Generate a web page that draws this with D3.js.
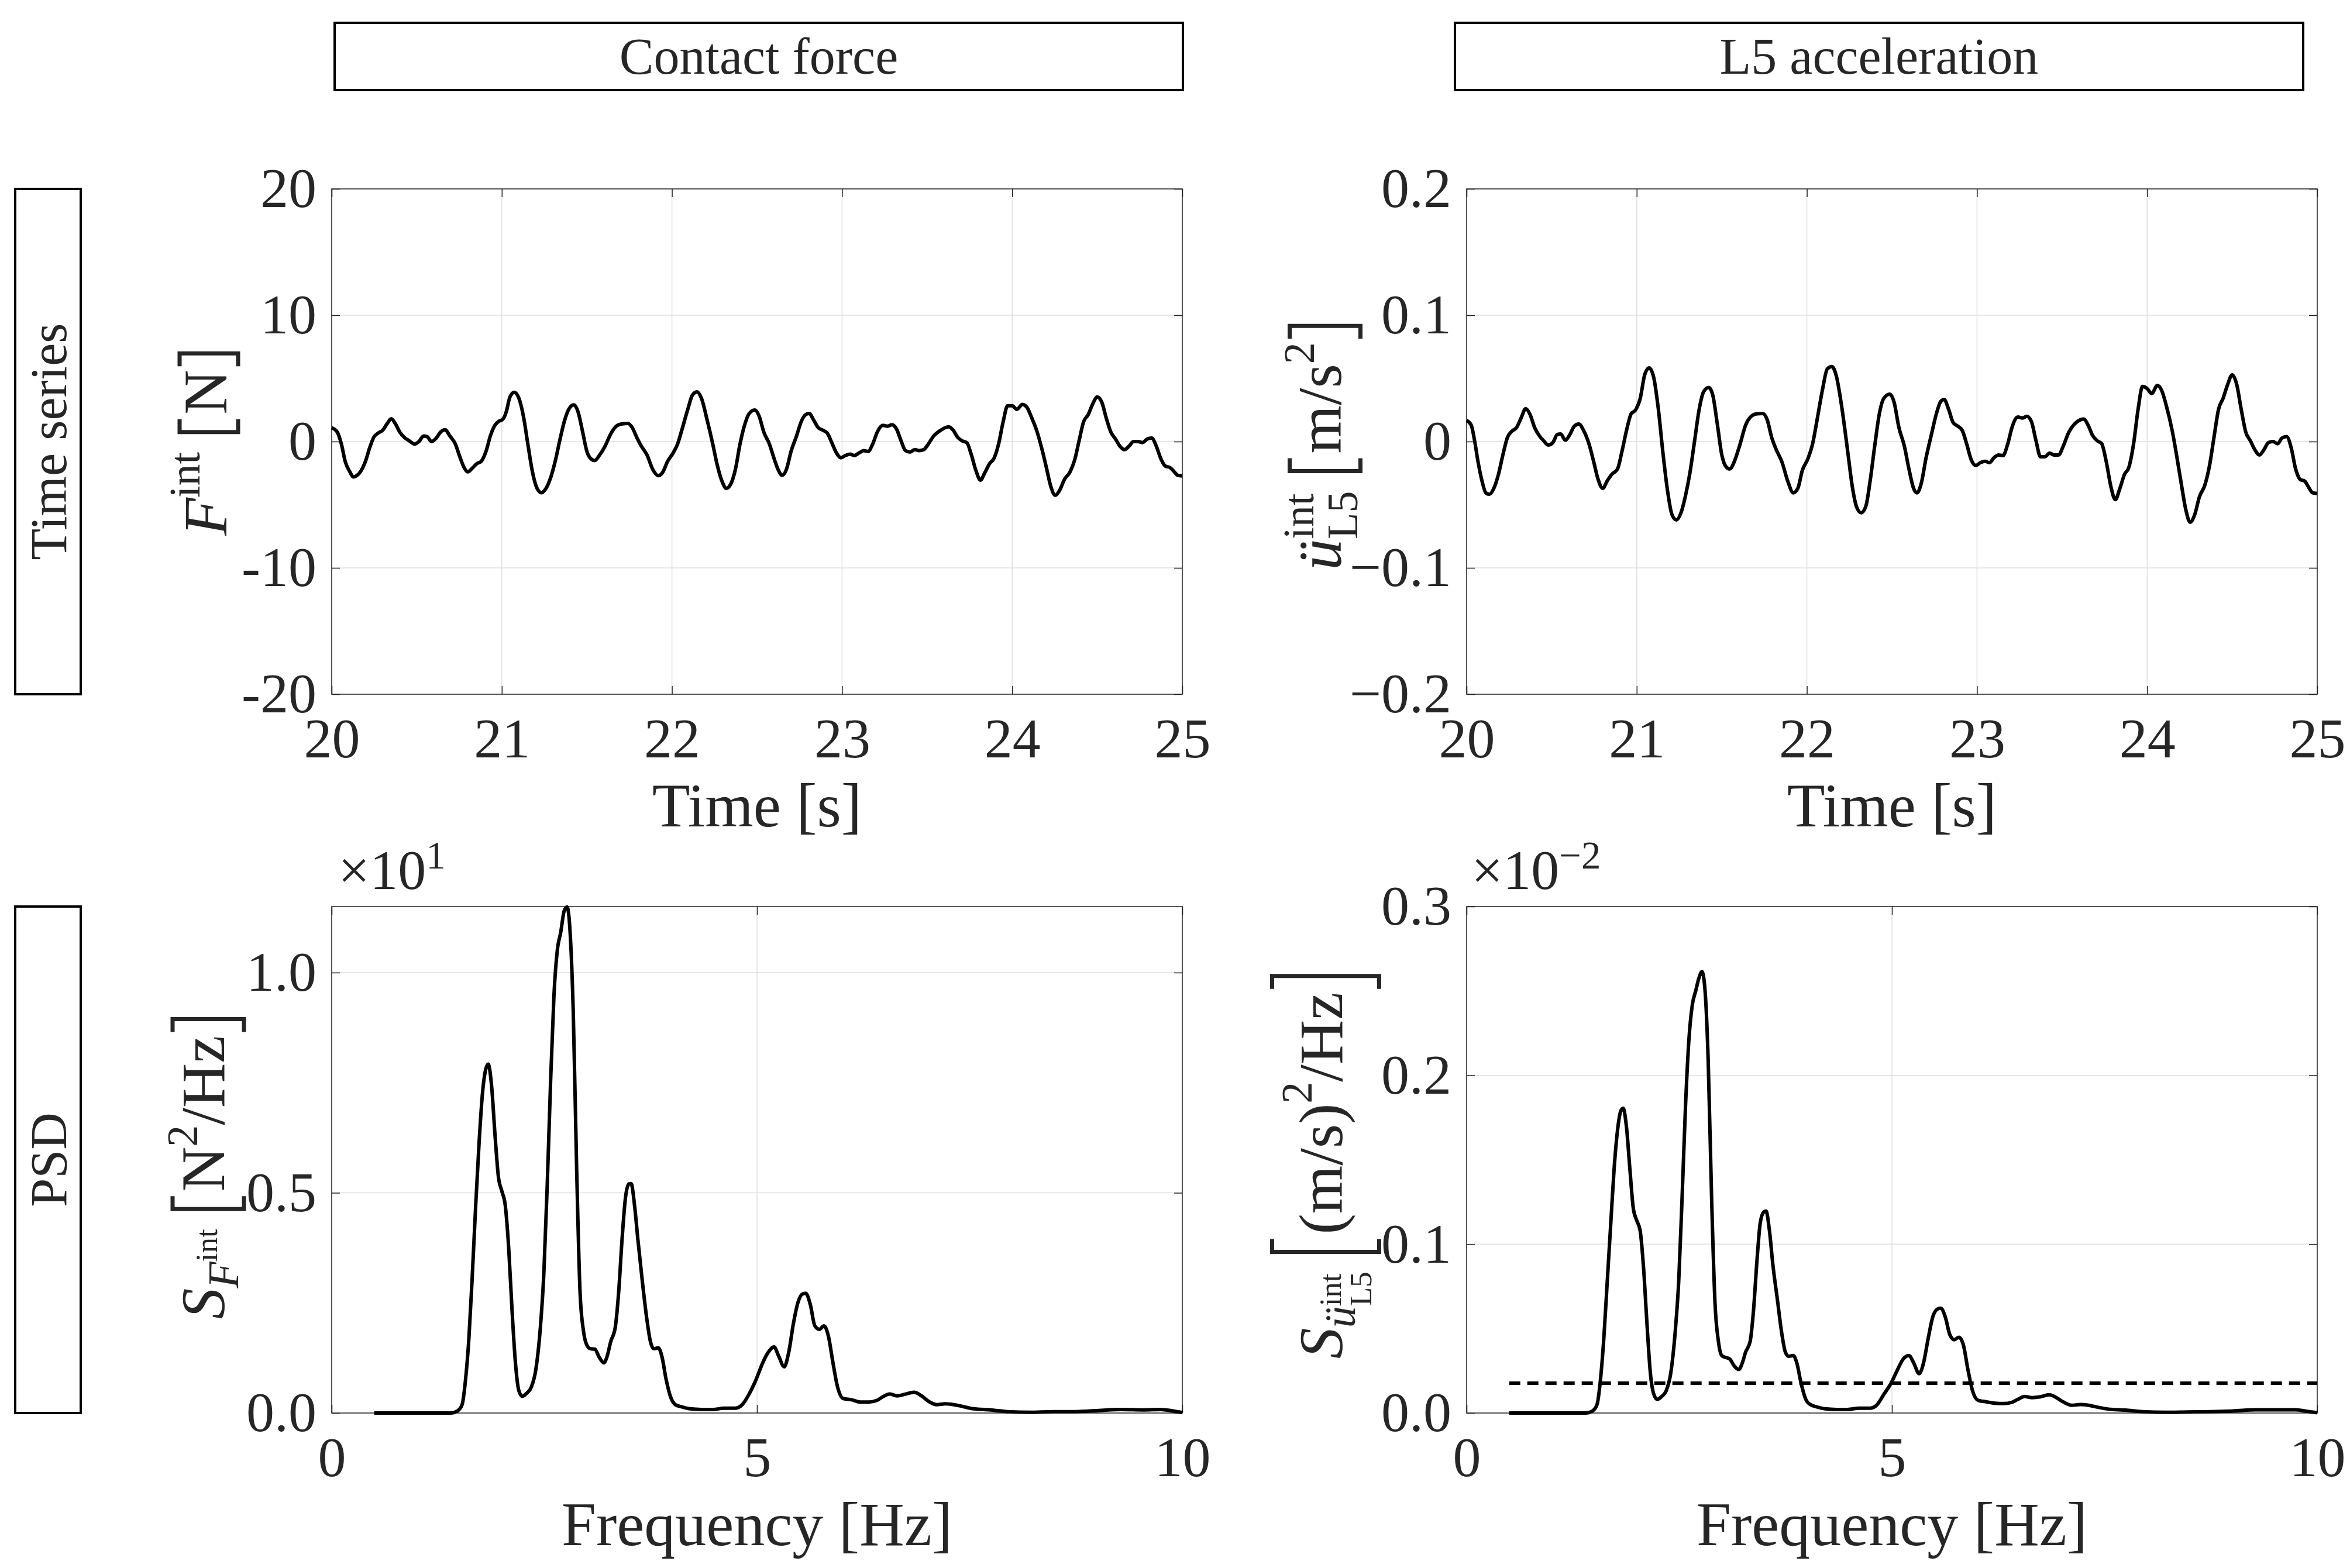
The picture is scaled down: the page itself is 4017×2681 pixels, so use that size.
<!DOCTYPE html>
<html>
<head>
<meta charset="utf-8">
<script src="https://cdn.jsdelivr.net/npm/d3@7"></script>
<style>
  body { margin: 0; background: #fff; }
  text { font-family: "Liberation Serif", serif; fill: #262626; }
</style>
</head>
<body>
<div id="chart"></div>
<script>
// ---- data ----
// time series, 20 - 25 s
const forceTime = [
  20.000, 20.033, 20.057, 20.080, 20.107, 20.127, 20.147, 20.173, 20.200, 20.223,
  20.247, 20.273, 20.300, 20.327, 20.350, 20.373, 20.400, 20.427, 20.457, 20.487,
  20.513, 20.540, 20.560, 20.587, 20.613, 20.640, 20.667, 20.693, 20.727, 20.753,
  20.780, 20.800, 20.827, 20.853, 20.880, 20.907, 20.933, 20.960, 20.980, 21.007,
  21.027, 21.047, 21.073, 21.100, 21.127, 21.153, 21.180, 21.207, 21.233, 21.260,
  21.287, 21.313, 21.340, 21.367, 21.393, 21.423, 21.447, 21.473, 21.500, 21.527,
  21.547, 21.573, 21.607, 21.640, 21.673, 21.707, 21.740, 21.767, 21.793, 21.820,
  21.853, 21.887, 21.920, 21.947, 21.973, 22.007, 22.033, 22.060, 22.093, 22.120,
  22.147, 22.173, 22.207, 22.240, 22.267, 22.293, 22.320, 22.347, 22.373, 22.400,
  22.427, 22.453, 22.487, 22.513, 22.540, 22.573, 22.600, 22.627, 22.647, 22.673,
  22.700, 22.733, 22.760, 22.787, 22.807, 22.833, 22.860, 22.887, 22.913, 22.940,
  22.967, 22.993, 23.020, 23.047, 23.073, 23.100, 23.127, 23.153, 23.180, 23.207,
  23.240, 23.267, 23.293, 23.320, 23.347, 23.373, 23.400, 23.427, 23.453, 23.480,
  23.507, 23.540, 23.573, 23.607, 23.627, 23.653, 23.680, 23.707, 23.733, 23.760,
  23.787, 23.813, 23.840, 23.867, 23.893, 23.920, 23.947, 23.973, 24.000, 24.027,
  24.060, 24.087, 24.113, 24.147, 24.173, 24.200, 24.227, 24.253, 24.280, 24.307,
  24.340, 24.367, 24.393, 24.420, 24.447, 24.473, 24.500, 24.527, 24.553, 24.580,
  24.607, 24.633, 24.660, 24.687, 24.713, 24.740, 24.767, 24.793, 24.820, 24.847,
  24.873, 24.900, 24.927, 24.953, 24.973, 25.000
];
// contact force [N]
const forceVal = [
  1.1, 0.75, -0.2, -1.6, -2.4, -2.8, -2.7, -2.3, -1.5, -0.5,
  0.33, 0.67, 0.9, 1.44, 1.8, 1.44, 0.75, 0.33, 0.05, -0.2,
  0, 0.44, 0.4, 0, 0.25, 0.75, 0.94, 0.47, -0.2, -1.2,
  -2.1, -2.4, -2.1, -1.75, -1.55, -0.78, 0.47, 1.3, 1.58, 1.78,
  2.4, 3.5, 3.9, 3.44, 2.0, -0.2, -2.4, -3.7, -4.05, -3.7,
  -2.86, -1.6, 0.05, 1.58, 2.55, 2.9, 2.4, 0.9, -0.78, -1.4,
  -1.5, -1.1, -0.36, 0.6, 1.22, 1.4, 1.44, 1.1, 0.33, -0.36,
  -1.05, -2.2, -2.7, -2.4, -1.6, -0.9, -0.2, 1.0, 2.55, 3.67,
  3.94, 3.44, 1.7, -0.2, -1.9, -3.1, -3.7, -3.33, -2.2, -0.2,
  1.3, 2.2, 2.5, 2.0, 0.75, -0.2, -1.33, -2.3, -2.67, -2.2,
  -0.78, 0.47, 1.58, 2.14, 2.22, 1.7, 1.1, 0.9, 0.67, -0.1,
  -0.9, -1.28, -1.1, -1.0, -1.1, -0.9, -0.72, -0.78, -0.2, 0.75,
  1.28, 1.22, 1.33, 1.0, 0.05, -0.72, -0.83, -0.64, -0.72, -0.64,
  -0.2, 0.47, 0.83, 1.1, 1.17, 0.9, 0.33, 0.05, -0.08, -1.05,
  -2.3, -3.05, -2.44, -1.75, -1.33, -0.2, 1.58, 2.83, 2.83, 2.55,
  2.94, 2.7, 1.94, 0.75, -0.5, -2.0, -3.55, -4.25, -3.83, -3.0,
  -2.4, -1.47, 0.05, 1.58, 2.14, 2.97, 3.53, 3.1, 1.86, 0.75,
  0.2, -0.36, -0.64, -0.36, 0, 0, -0.08, 0.2, 0.28, -0.36,
  -1.33, -1.94, -2.05, -2.4, -2.67, -2.72
];
// L5 acceleration: first 50 samples read on their own, the rest at the same times as the force
const accTime = [
  20.000, 20.027, 20.047, 20.067, 20.090, 20.113, 20.133, 20.160, 20.187, 20.213,
  20.240, 20.267, 20.293, 20.320, 20.347, 20.373, 20.400, 20.427, 20.453, 20.480,
  20.507, 20.533, 20.553, 20.580, 20.607, 20.633, 20.660, 20.687, 20.720, 20.747,
  20.773, 20.800, 20.827, 20.853, 20.887, 20.913, 20.940, 20.967, 20.993, 21.020,
  21.047, 21.073, 21.100, 21.127, 21.153, 21.180, 21.207, 21.233, 21.260, 21.287
].concat(forceTime.slice(51));
// [m/s^2]
const accVal = [
  0.0167, 0.013, 0.0006, -0.016, -0.031, -0.0406, -0.0417, -0.037, -0.026, -0.0106,
  0.0033, 0.0083, 0.011, 0.0186, 0.026, 0.0214, 0.011, 0.0047, 0.0006, -0.0028,
  -0.0008, 0.0056, 0.006, 0.0011, 0.0056, 0.0122, 0.0139, 0.0089, -0.0022, -0.016,
  -0.03, -0.037, -0.031, -0.026, -0.0217, -0.0078, 0.0089, 0.022, 0.025, 0.0339,
  0.053, 0.0583, 0.0506, 0.0256, -0.0078, -0.038, -0.0578, -0.062, -0.0564, -0.0425,
  -0.0244, 0.0006, 0.0256, 0.0394, 0.0428, 0.0367, 0.0144, -0.0106, -0.0203, -0.0217,
  -0.016, -0.0022, 0.013, 0.02, 0.022, 0.0222, 0.0172, 0.0033, -0.0064, -0.016,
  -0.031, -0.0406, -0.037, -0.023, -0.0133, -0.0022, 0.0172, 0.042, 0.0575, 0.0594,
  0.052, 0.0256, -0.0078, -0.0356, -0.052, -0.0564, -0.051, -0.03, -0.0022, 0.0228,
  0.0344, 0.0375, 0.031, 0.0117, -0.0036, -0.0217, -0.037, -0.0406, -0.0328, -0.0133,
  0.0061, 0.0214, 0.0317, 0.0333, 0.0256, 0.015, 0.0122, 0.0089, -0.0022, -0.0147,
  -0.0189, -0.0167, -0.0156, -0.0167, -0.0128, -0.0106, -0.0111, -0.0022, 0.0117, 0.0194,
  0.0186, 0.02, 0.0158, 0.0006, -0.012, -0.012, -0.0092, -0.0106, -0.0106, -0.0036,
  0.0075, 0.0139, 0.0172, 0.0178, 0.013, 0.0047, 0.0006, -0.0017, -0.016, -0.0356,
  -0.046, -0.037, -0.026, -0.0203, -0.0022, 0.0256, 0.0436, 0.042, 0.038, 0.0444,
  0.04, 0.0283, 0.0089, -0.0106, -0.0328, -0.0536, -0.0639, -0.0578, -0.0439, -0.0342,
  -0.0189, 0.0033, 0.0256, 0.0344, 0.045, 0.0528, 0.045, 0.0256, 0.0075, 0.0006,
  -0.0064, -0.0106, -0.0064, -0.0008, 0, -0.0017, 0.0028, 0.0039, -0.005, -0.0217,
  -0.03, -0.0314, -0.037, -0.0406, -0.0411
];

// PSD, frequency [Hz]
const psdFreq = [
  0.5, 1.0, 1.4, 1.48, 1.533, 1.573, 1.613, 1.653, 1.693, 1.733,
  1.773, 1.813, 1.84, 1.88, 1.92, 1.96, 2.0, 2.04, 2.08, 2.12,
  2.16, 2.2, 2.24, 2.293, 2.347, 2.4, 2.453, 2.493, 2.533, 2.573,
  2.613, 2.653, 2.693, 2.733, 2.767, 2.8, 2.84, 2.88, 2.92, 2.96,
  3.0, 3.04, 3.093, 3.147, 3.2, 3.24, 3.28, 3.333, 3.373, 3.413,
  3.453, 3.493, 3.52, 3.56, 3.6, 3.653, 3.707, 3.747, 3.787, 3.84,
  3.88, 3.933, 3.987, 4.04, 4.113, 4.213, 4.347, 4.48, 4.613, 4.747,
  4.827, 4.907, 4.987, 5.067, 5.133, 5.2, 5.253, 5.32, 5.373, 5.427,
  5.48, 5.533, 5.573, 5.627, 5.68, 5.733, 5.787, 5.84, 5.893, 5.947,
  6.013, 6.113, 6.213, 6.313, 6.413, 6.48, 6.56, 6.647, 6.747, 6.847,
  6.933, 7.013, 7.113, 7.213, 7.313, 7.413, 7.547, 7.747, 7.947, 8.213,
  8.48, 8.747, 9.013, 9.28, 9.547, 9.747, 9.88, 10.0
];
// S_F [N^2/Hz]
const psdForce = [
  0, 0, 0, 0.05, 0.19, 0.75, 1.7, 3.13, 4.72, 6.15,
  7.27, 7.82, 7.92, 7.42, 6.31, 5.36, 5.04, 4.72, 3.77, 2.34,
  1.14, 0.51, 0.38, 0.45, 0.59, 0.99, 1.94, 3.13, 5.12, 7.5,
  9.49, 10.52, 10.92, 11.4, 11.49, 11.0, 9.09, 5.52, 2.73, 1.86,
  1.54, 1.46, 1.45, 1.26, 1.14, 1.3, 1.62, 1.94, 2.73, 3.93,
  4.88, 5.2, 5.21, 4.72, 3.93, 2.97, 2.1, 1.62, 1.46, 1.48,
  1.3, 0.75, 0.35, 0.19, 0.14, 0.095, 0.08, 0.08, 0.11, 0.11,
  0.19, 0.43, 0.75, 1.14, 1.38, 1.5, 1.3, 1.05, 1.38, 2.02,
  2.5, 2.7, 2.72, 2.46, 1.98, 1.9, 1.98, 1.74, 1.14, 0.59,
  0.33, 0.30, 0.25, 0.25, 0.29, 0.37, 0.43, 0.39, 0.43, 0.47,
  0.39, 0.27, 0.19, 0.21, 0.19, 0.15, 0.095, 0.07, 0.03, 0.016,
  0.03, 0.03, 0.056, 0.08, 0.07, 0.08, 0.05, 0.01
];
// S_acc [(m/s^2)^2/Hz]
const psdAcc = [
  0, 0, 0, 0.000012, 0.00005, 0.000195, 0.000444, 0.000777, 0.00111, 0.00144,
  0.00167, 0.00179, 0.001805, 0.00169, 0.00144, 0.00121, 0.00114, 0.00108, 0.00086, 0.00053,
  0.000237, 0.000112, 0.000081, 0.000098, 0.000133, 0.000237, 0.000486, 0.000777, 0.001275, 0.001815,
  0.00221, 0.002417, 0.0025, 0.00258, 0.002615, 0.00252, 0.002085, 0.001275, 0.000652, 0.000424,
  0.00034, 0.00033, 0.00032, 0.000278, 0.000258, 0.000295, 0.000361, 0.000424, 0.00061, 0.000901,
  0.00113, 0.00119, 0.001196, 0.00108, 0.00088, 0.000673, 0.000465, 0.000361, 0.000336, 0.00034,
  0.0003, 0.000174, 0.000081, 0.00005, 0.000037, 0.000025, 0.000021, 0.000021, 0.000029, 0.000029,
  0.00005, 0.000112, 0.000174, 0.000258, 0.00032, 0.00034, 0.0003, 0.000233, 0.0003, 0.000444,
  0.000569, 0.000615, 0.000621, 0.000569, 0.000465, 0.000434, 0.000449, 0.000403, 0.000258, 0.000133,
  0.000075, 0.000066, 0.000058, 0.000056, 0.000064, 0.000081, 0.000098, 0.000091, 0.000096, 0.000108,
  0.000091, 0.000066, 0.000046, 0.00005, 0.000046, 0.000035, 0.000023, 0.000017, 0.000008, 0.000004,
  0.000006, 0.000008, 0.000012, 0.000019, 0.000019, 0.000019, 0.00001, 0.000002
];
// dashed level in the acceleration PSD
const accLevel = { f: [0.5, 10], s: 0.000177 };

// ticks
const timeTicks = [20, 21, 22, 23, 24, 25];
const forceTicks = [-20, -10, 0, 10, 20];
const accTicks = [-0.2, -0.1, 0, 0.1, 0.2];
const freqTicks = [0, 5, 10];
const psdForceTicks = [0, 5, 10];
const psdAccTicks = [0, 0.001, 0.002, 0.003];

const colTitles = ["Contact force", "L5 acceleration"];
const rowTitles = ["Time series", "PSD"];

// ---- drawing ----
const width = 4017, height = 2681;
const ink = "#262626";

const svg = d3.select("#chart").append("svg")
  .attr("width", width).attr("height", height)
  .style("background", "#fff");

const cols = [{ x0: 567, x1: 2021 }, { x0: 2507, x1: 3961 }];
const rows = [{ y0: 323, y1: 1187 }, { y0: 1550, y1: 2416 }];

const line = (x, y) => d3.line().x(d => x(d[0])).y(d => y(d[1])).curve(d3.curveMonotoneX);

function panel(p) {
  const x = d3.scaleLinear().domain(p.xDom).range([p.x0, p.x1]);
  const y = d3.scaleLinear().domain(p.yDom).range([p.y1, p.y0]);
  const g = svg.append("g");

  g.append("g").selectAll("line").data(p.xGrid).join("line")
    .attr("x1", d => x(d)).attr("x2", d => x(d))
    .attr("y1", p.y0).attr("y2", p.y1)
    .attr("stroke", "#dfdfdf").attr("stroke-width", 1.5);
  g.append("g").selectAll("line").data(p.yGrid).join("line")
    .attr("y1", d => y(d)).attr("y2", d => y(d))
    .attr("x1", p.x0).attr("x2", p.x1)
    .attr("stroke", "#dfdfdf").attr("stroke-width", 1.5);

  const style = a => {
    a.attr("font-size", 96).attr("font-family", '"Liberation Serif", serif').attr("color", ink);
    a.select(".domain").remove();
    a.selectAll("line").attr("stroke-width", 1.5);
  };

  g.append("g").attr("transform", `translate(0,${p.y1})`)
    .call(d3.axisBottom(x).tickValues(p.xTicks).tickSize(-14).tickSizeOuter(0)
      .tickPadding(40).tickFormat(p.xFmt))
    .call(style);
  g.append("g").attr("transform", `translate(${p.x0},0)`)
    .call(d3.axisLeft(y).tickValues(p.yTicks).tickSize(-14).tickSizeOuter(0)
      .tickPadding(26).tickFormat(p.yFmt))
    .call(style);
  g.append("g").attr("transform", `translate(0,${p.y0})`)
    .call(d3.axisTop(x).tickValues(p.xTicks).tickSize(-14).tickSizeOuter(0).tickFormat(""))
    .call(style);
  g.append("g").attr("transform", `translate(${p.x1},0)`)
    .call(d3.axisRight(y).tickValues(p.yTicks).tickSize(-14).tickSizeOuter(0).tickFormat(""))
    .call(style);

  g.append("rect")
    .attr("x", p.x0).attr("y", p.y0)
    .attr("width", p.x1 - p.x0).attr("height", p.y1 - p.y0)
    .attr("fill", "none").attr("stroke", ink).attr("stroke-width", 1.5);

  p.series.forEach(s => {
    g.append("path")
      .datum(d3.zip(s.x, s.y))
      .attr("d", line(x, y))
      .attr("fill", "none").attr("stroke", "#000")
      .attr("stroke-width", 6)
      .attr("stroke-linejoin", "round")
      .attr("stroke-dasharray", s.dash || null);
  });

  g.append("text")
    .attr("x", (p.x0 + p.x1) / 2).attr("y", p.y1 + 226)
    .attr("text-anchor", "middle").attr("font-size", 106)
    .text(p.xLabel);

  if (p.exp) {
    const t = g.append("text").attr("x", p.exp.x).attr("y", p.y0 - 30).attr("font-size", 96);
    t.append("tspan").text("×10");
    t.append("tspan").attr("font-size", 67).attr("dy", -35).text(p.exp.e);
  }
  return { x, y };
}

// y label built from pieces laid out along the text direction, then rotated
function mathLabel(bx, cy, pieces) {
  const g = svg.append("g").attr("transform", `translate(${bx},${cy}) rotate(-90)`);
  const inner = g.append("g");
  let cursor = 0, prevStart = 0;
  pieces.forEach(pc => {
    if (pc.gap) { cursor += pc.gap; return; }
    if (pc.br) {
      const w = 22, x0 = cursor + 6;
      const top = pc.c - pc.h / 2, bot = pc.c + pc.h / 2;
      const d = pc.br === "l"
        ? `M${x0 + w},${top}H${x0}V${bot}H${x0 + w}`
        : `M${x0},${top}H${x0 + w}V${bot}H${x0}`;
      inner.append("path").attr("d", d).attr("fill", "none")
        .attr("stroke", ink).attr("stroke-width", 7);
      prevStart = cursor;
      cursor += w + 14;
      return;
    }
    const start = pc.stack ? prevStart : cursor;
    const t = inner.append("text")
      .attr("x", start).attr("y", pc.dy || 0)
      .attr("font-size", pc.fs || 106)
      .attr("font-style", pc.it ? "italic" : "normal")
      .text(pc.t);
    const w = t.node().getComputedTextLength();
    if (pc.stack) cursor = Math.max(cursor, start + w);
    else { prevStart = start; cursor = start + w; }
  });
  inner.attr("transform", `translate(${-cursor / 2},0)`);
}

// column and row headers
const headBox = [{ x: 572, w: 1450 }, { x: 2487, w: 1450 }];
headBox.forEach((b, i) => {
  svg.append("rect").attr("x", b.x).attr("y", 39).attr("width", b.w).attr("height", 115)
    .attr("fill", "none").attr("stroke", "#000").attr("stroke-width", 4);
  svg.append("text").attr("x", b.x + b.w / 2).attr("y", 126)
    .attr("text-anchor", "middle").attr("font-size", 88).attr("fill", "#000")
    .text(colTitles[i]);
});
rows.forEach((r, i) => {
  svg.append("rect").attr("x", 26).attr("y", r.y0).attr("width", 112).attr("height", r.y1 - r.y0)
    .attr("fill", "none").attr("stroke", "#000").attr("stroke-width", 4);
  svg.append("text")
    .attr("transform", `translate(113,${(r.y0 + r.y1) / 2}) rotate(-90)`)
    .attr("text-anchor", "middle").attr("font-size", 88).attr("fill", "#000")
    .text(rowTitles[i]);
});

const intFmt = d => d;
panel({
  ...cols[0], ...rows[0],
  xDom: [20, 25], yDom: [-20, 20],
  xTicks: timeTicks, yTicks: forceTicks,
  xGrid: timeTicks, yGrid: forceTicks,
  xFmt: intFmt, yFmt: d => (d < 0 ? "-" + Math.abs(d) : d),
  xLabel: "Time [s]",
  series: [{ x: forceTime, y: forceVal }]
});
panel({
  ...cols[1], ...rows[0],
  xDom: [20, 25], yDom: [-0.2, 0.2],
  xTicks: timeTicks, yTicks: accTicks,
  xGrid: timeTicks, yGrid: accTicks,
  xFmt: intFmt, yFmt: d => (d === 0 ? "0" : (d < 0 ? "−" : "") + Math.abs(d).toFixed(1)),
  xLabel: "Time [s]",
  series: [{ x: accTime, y: accVal }]
});
panel({
  ...cols[0], ...rows[1],
  xDom: [0, 10], yDom: [0, 11.5],
  xTicks: freqTicks, yTicks: psdForceTicks,
  xGrid: freqTicks, yGrid: psdForceTicks,
  xFmt: intFmt, yFmt: d => (d / 10).toFixed(1),
  xLabel: "Frequency [Hz]",
  exp: { x: 578, e: "1" },
  series: [{ x: psdFreq, y: psdForce }]
});
panel({
  ...cols[1], ...rows[1],
  xDom: [0, 10], yDom: [0, 0.003],
  xTicks: freqTicks, yTicks: psdAccTicks,
  xGrid: freqTicks, yGrid: psdAccTicks,
  xFmt: intFmt, yFmt: d => (d * 100).toFixed(1),
  xLabel: "Frequency [Hz]",
  exp: { x: 2515, e: "−2" },
  series: [
    { x: psdFreq, y: psdAcc },
    { x: accLevel.f, y: accLevel.f.map(() => accLevel.s), dash: "19,12" }
  ]
});

// axis labels
mathLabel(387, 756, [
  { t: "F", it: true },
  { t: "int", fs: 74, dy: -46 },
  { gap: 28 },
  { br: "l", h: 100, c: -30 },
  { t: "N" },
  { br: "r", h: 100, c: -30 }
]);
mathLabel(2292, 762, [
  { t: "ü", it: true },
  { t: "int", fs: 74, dy: -47 },
  { t: "L5", fs: 74, dy: 28, stack: true },
  { gap: 28 },
  { br: "l", h: 121, c: -27 },
  { t: "m" }, { t: "/" }, { t: "s" },
  { t: "2", fs: 74, dy: -46 },
  { br: "r", h: 121, c: -27 }
]);
mathLabel(383, 1995, [
  { t: "S", it: true },
  { t: "F", it: true, fs: 74, dy: 24 },
  { t: "int", fs: 53, dy: -12 },
  { gap: 28 },
  { br: "l", h: 122, c: -27 },
  { t: "N" },
  { t: "2", fs: 74, dy: -46 },
  { t: "/" }, { t: "Hz" },
  { br: "r", h: 122, c: -27 }
]);
mathLabel(2294, 1992, [
  { t: "S", it: true },
  { t: "ü", it: true, fs: 74, dy: 22 },
  { t: "int", fs: 53, dy: -2 },
  { t: "L5", fs: 53, dy: 50, stack: true },
  { gap: 28 },
  { br: "l", h: 183, c: -28 },
  { t: "(" }, { t: "m" }, { t: "/" }, { t: "s" }, { t: ")" },
  { t: "2", fs: 74, dy: -52 },
  { t: "/" }, { t: "Hz" },
  { br: "r", h: 183, c: -28 }
]);
</script>
</body>
</html>
